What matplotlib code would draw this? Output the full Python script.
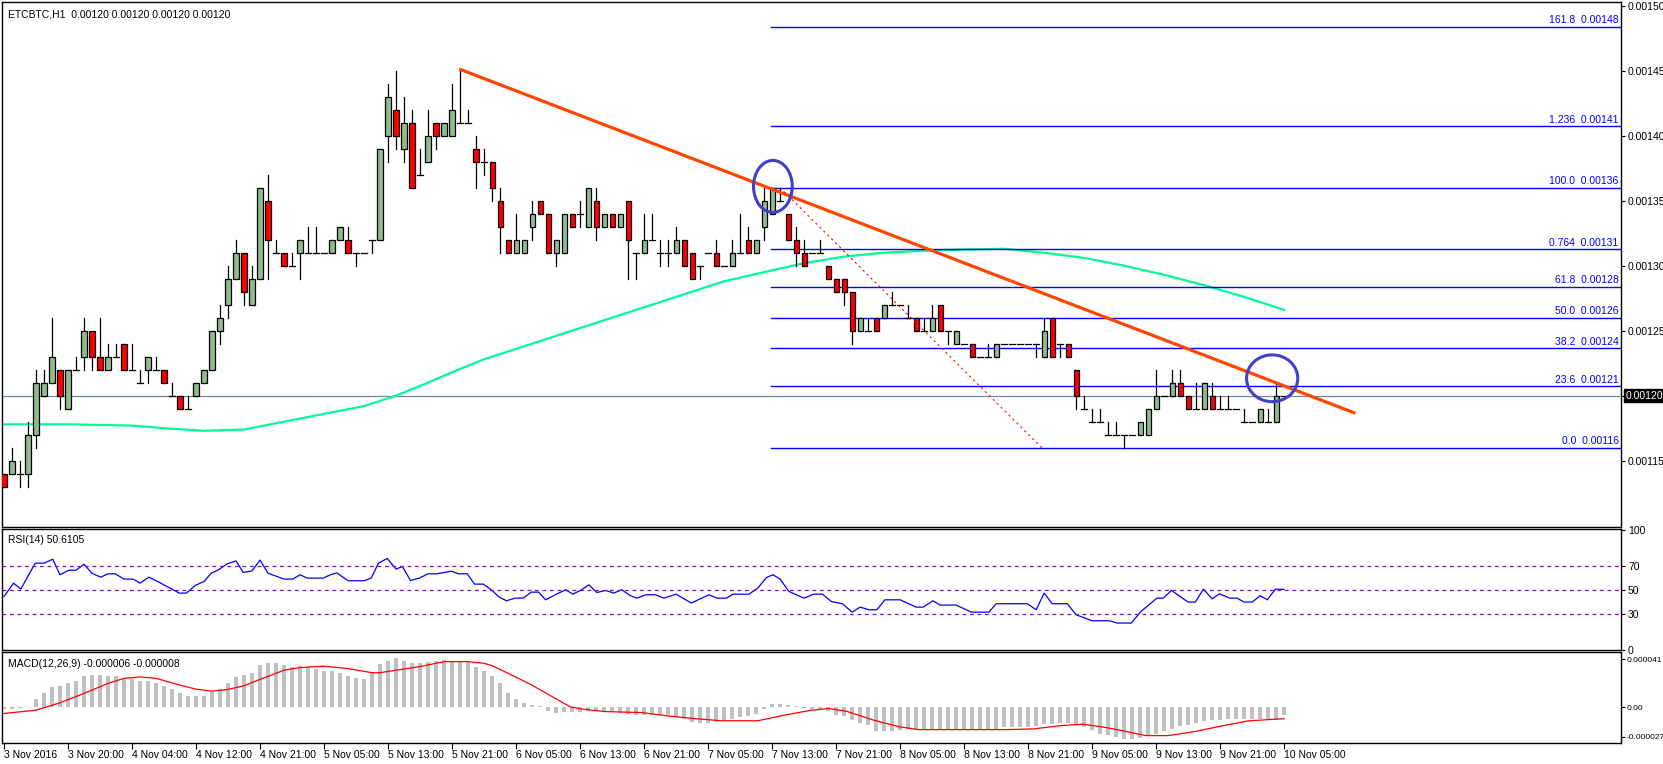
import matplotlib
matplotlib.use("Agg")
import matplotlib.pyplot as plt
from matplotlib.patches import Ellipse, Rectangle
from matplotlib.transforms import blended_transform_factory
import numpy as np

plt.rcParams["font.family"] = "Liberation Sans"

# ---- price data (units of 1e-5 BTC), hourly bars ----
opens = [114,114,114,114,117,120,121,122,119,122,
         123,125,123,122,123,124,122,121,122,122,
         122,120,120,119,120,121,122,125,127,129,
         131,127,129,135,131,131,130,131,131,131,
         131,131,132,132,131,131,132,132,140,142,
         139,141,137,138,141,140,140,141,141,139,
         138,138,135,132,131,131,133,135,134,131,
         131,134,134,133,135,133,134,133,135,131,
         131,132,131,131,131,132,131,130,131,131,
         130,130,131,132,131,133,134,135,134,132,
         131,131,131,130,129,129,128,125,125,126,
         126,127,127,126,126,125,125,127,125,124,
         124,124,123,123,123,124,124,124,124,124,
         123,126,124,124,122,119,118,118,117,117,
         117,117,117,117,119,120,120,121,120,119,
         119,120,119,119,119,118,118,118,118,118,
         120]
highs = [114,116,115,118,122,122,126,122,122,123,
         126,125,126,124,124,124,124,122,123,123,
         122,121,120,120,121,122,125,127,130,132,
         131,130,136,137,132,131,131,132,133,133,
         131,132,133,133,131,131,132,139,144,145,
         143,142,139,142,141,141,144,145,142,140,
         139,138,136,132,134,132,135,135,134,132,
         134,134,135,136,136,134,134,134,135,131,
         134,134,132,132,133,132,131,130,131,132,
         130,132,134,133,132,136,136,136,134,133,
         132,131,132,130,129,129,128,126,126,126,
         127,128,127,127,126,126,127,127,125,125,
         124,124,123,124,124,124,124,124,124,124,
         126,126,124,124,122,120,119,119,118,118,
         117,117,118,119,122,120,122,122,120,121,
         121,121,120,120,119,119,118,119,119,121,
         120]
lows = [113,114,113,113,116,120,121,119,119,122,
        122,122,122,122,123,122,122,121,121,122,
        121,120,119,119,120,121,122,124,126,129,
        127,127,129,129,131,130,130,129,131,131,
        131,131,132,131,130,131,131,132,138,139,
        138,136,137,138,139,140,140,141,141,136,
        137,135,131,131,131,131,132,134,131,130,
        131,133,133,133,132,133,133,133,129,129,
        131,132,130,130,131,130,129,129,131,130,
        130,130,131,131,131,132,134,135,132,130,
        130,131,131,129,128,127,124,125,125,125,
        126,127,127,126,125,125,125,125,124,124,
        124,123,123,123,123,124,124,124,124,123,
        123,123,123,123,119,119,118,118,117,117,
        116,117,117,117,119,120,120,120,119,119,
        119,119,119,119,119,118,118,118,118,118,
        120]
closes = [113,115,114,117,121,121,123,120,122,122,
          125,123,122,123,123,122,122,121,123,122,
          121,120,119,119,121,122,125,126,129,131,
          128,129,136,132,131,130,130,132,131,131,
          131,132,133,131,131,131,132,139,143,140,
          141,136,137,140,140,141,142,141,141,138,
          138,136,133,131,132,132,134,134,131,132,
          134,133,134,136,133,134,133,134,132,131,
          132,132,131,131,132,130,129,130,131,130,
          130,131,131,131,132,135,136,135,132,131,
          130,131,131,129,128,128,125,126,125,125,
          127,127,127,126,125,125,126,125,125,125,
          124,123,123,123,124,124,124,124,124,124,
          125,123,124,123,120,119,118,118,117,117,
          117,117,118,119,120,120,121,120,119,119,
          121,119,119,119,119,118,118,119,118,120,
          120]

# moving average : bar, value
ma_bar = [0, 8, 16, 20, 25, 30, 35, 40, 45, 49, 53, 56, 60, 70, 80, 90, 100, 105, 110, 115, 120, 125, 130, 135, 140, 145, 150, 155, 160]
ma_val = [117.8, 117.8, 117.7, 117.5, 117.3, 117.4, 118.0, 118.6, 119.2, 120.0, 121.0, 121.8, 122.8, 124.8,
          126.8, 128.8, 130.2, 130.7, 131.0, 131.15, 131.25, 131.3, 131.0, 130.6, 130.0, 129.3, 128.5, 127.6, 126.6]

fib_levels = [0.0, 23.6, 38.2, 50.0, 61.8, 76.4, 100.0, 123.6, 161.8]
fib_names = ["0.0", "23.6", "38.2", "50.0", "61.8", "0.764", "100.0", "1.236", "161.8"]
fib_low, fib_high = 116.0, 136.0
fib_start_bar = 95.9

trend_bars = [56.9, 168.9]
trend_vals = [145.13, 118.65]
dot_bars = [97.0, 129.7]
dot_vals = [136.0, 116.0]

# RSI(14)
rsi_bar = [0,1.2,2.1,3.9,5,6.1,7,8.1,9,10,11,12.1,13,13.9,15,16.1,17,18.1,19.2,21.9,22.8,23.9,25,25.9,26.8,27.9,29,29.9,31,32,33,
           35,36.1,37,37.9,39.9,40.8,41.6,43,45,45.9,46.8,47.9,49,49.8,50.8,51.9,53,54.1,55.9,56.8,57.9,58.8,59.9,60.9,61.9,62.8,63.9,64.9,65.9,66.8,67.7,69,
           70.2,71.1,72.2,73.1,74.1,75.2,76.2,77.2,78.3,79.1,80.2,81.4,82.5,84,85.9,88.1,89.1,90.3,91.1,93.1,94.2,95.3,96.1,97,98.1,100,101.2,102.3,103.4,104.8,106,107,108.1,109.1,110.1,112,114,114.9,116.1,117,119,120.9,123.1,124,127.9,129,130,131,132.9,134,136,138.2,139.1,140.9,142.1,144.1,144.9,145.9,148,148.9,149.9,151,151.9,
           153.2,154.1,155,156,157,157.9,158.9,160]
rsi_val = [44.7,55.8,50.8,72.5,72.5,75.8,62.8,66.6,66.6,71.6,64,60.8,63.6,63.6,59.2,59.2,55.8,60.8,57.2,47.5,47.5,53.9,57.2,64.1,66.9,71.9,74.4,64.7,66.1,75,64.1,
           59.2,59.2,62.8,60,60,62.8,64.4,57.8,57.8,60,72.5,76.4,67.5,69.7,58,60,63.6,63.6,65.8,63.6,63.6,55,55,50.3,44.1,41.1,43.3,43.3,48.3,48.3,41.9,46.4,
           50.3,46.6,50.3,54.4,48,49.7,47.5,50.3,45.3,43.3,46.1,46.1,43.3,46.6,39.2,46.1,43.3,43.3,46.6,46.6,51.6,60.5,62.8,59.2,48.9,43.3,46.6,46.6,40.5,38.6,31.6,35.8,33.6,33.6,41.9,41.9,35.8,35.8,41.1,37.5,37.5,31.6,31.6,38.6,38.6,33.6,47.5,38.6,38.6,29.4,24.4,24.4,22.5,22.5,32.2,43.3,43.3,49.7,40,40,50.8,42.7,46.9,
           43.3,43.3,40,40,45.3,41.9,50.8,50.6]

# MACD histogram (units 1e-6), one per bar
macd_hist = [-1,-1,-0.5,0.5,7.1,12.5,17.7,18.5,21.1,22.5,
             27,27.6,27.6,27,27,24.5,24.5,22.5,22.5,21.1,
             18.5,15.6,12.5,9.7,9.7,9.7,12.8,15.4,21.1,26.2,
             27.6,29.6,36.2,37.6,37.6,36.2,34.8,35.3,34.8,32.8,
             31.1,31.1,29.6,26.8,24.8,23.9,29.9,37,39.6,42.1,
             39.6,38.1,38.1,38.7,39.6,40.8,39.6,39.6,39,34.8,
             31.4,27.1,20.5,12.5,7.1,4,2,1.5,-2.8,-4.6,
             -3.7,-3.7,-3.7,-3.2,-3.2,-3.5,-4,-4.5,-5.5,-6.6,
             -6.6,-6.6,-6.6,-6.6,-8,-10,-12.4,-13,-13.3,-12,
             -11,-10,-8.1,-7,-5.2,-1,2.8,2.8,2,1.1,
             -0.5,-0.9,-2,-2.9,-6,-7.5,-11,-13,-14.5,-19.6,
             -20.2,-20,-19,-18.5,-18.2,-18,-18,-18.2,-18.5,-19,
             -19,-19,-18.5,-18.3,-18,-17,-17,-16.8,-16.5,-15.5,
             -14.2,-14,-13.3,-13.5,-14.5,-17,-18.8,-22.2,-23.5,-25.1,
             -26.5,-26.5,-25.6,-24,-22.2,-20,-18,-16,-14.5,-13,
             -11.4,-11,-10.5,-10,-9.4,-9.4,-9.4,-9.4,-9.4,-9.4,
             -6.6]
sig_bar = [0,4,7,10,13,15,17,19,22,24,26,28,30,32,35,37,40,43,46,47,49,52,55,58,60,61,63,66,69.5,70.8,72.4,75.2,79.7,83,86.4,89.7,94.2,97.5,100.9,103.1,105.3,108.7,112,114.3,119.8,125.4,128.7,132.1,134.9,137.7,139.9,142.7,145.5,148.8,152.2,155.5,160]
sig_val = [-5.1,-2.3,4,12,20.5,24.8,26,24.8,19,15.6,13.9,15.4,18.5,23.9,31.7,34,35.1,33.1,29.6,29.6,31.7,34.8,39,39,37.6,35.6,29.1,19,5.4,0.5,-1.5,-3.5,-4.3,-7.2,-9.5,-11.3,-11.3,-6.6,-2.3,-0.9,-3.2,-10.8,-16.5,-18.8,-18.8,-18.8,-18.2,-15.4,-14.2,-17,-19.9,-23.9,-23.9,-20.5,-15.7,-11.4,-9.5]

x_labels = ["3 Nov 2016", "3 Nov 20:00", "4 Nov 04:00", "4 Nov 12:00", "4 Nov 21:00", "5 Nov 05:00",
            "5 Nov 13:00", "5 Nov 21:00", "6 Nov 05:00", "6 Nov 13:00", "6 Nov 21:00", "7 Nov 05:00",
            "7 Nov 13:00", "7 Nov 21:00", "8 Nov 05:00", "8 Nov 13:00", "8 Nov 21:00", "9 Nov 05:00",
            "9 Nov 13:00", "9 Nov 21:00", "10 Nov 05:00"]
current_price = 120

# ---- layout ----
W, H = 1663, 764
fig = plt.figure(figsize=(W/100, H/100), dpi=100)
def rect(l, t, r, b):
    return [l/W, 1-b/H, (r-l)/W, (b-t)/H]
ax = fig.add_axes(rect(2, 2, 1621, 527))
axr = fig.add_axes(rect(2, 529, 1621, 650), sharex=ax)
axm = fig.add_axes(rect(2, 652, 1621, 743), sharex=ax)
FS = 7.5
xmin, xmax = -0.25, 202.1
ax.set_xlim(xmin, xmax)

n = len(closes)
green = "#8fbc8f"
for i in range(n):
    o, h, l, c = opens[i], highs[i], lows[i], closes[i]
    ax.plot([i, i], [l, h], color="black", lw=0.9, zorder=3)
    if o == c:
        ax.plot([i-0.35, i+0.35], [o, o], color="black", lw=0.9, zorder=4)
    else:
        col = green if c > o else "#ff0000"
        ax.add_patch(Rectangle((i-0.32, min(o, c)), 0.64, abs(c-o), facecolor=col,
                               edgecolor="black", lw=0.9, zorder=4))

ax.plot(ma_bar, ma_val, color="#00fa9a", lw=1.6, zorder=2)
ax.axhline(current_price, color="#778899", lw=0.9, zorder=1)

rng = fib_high - fib_low
for lev, name in zip(fib_levels, fib_names):
    v = fib_low + rng*lev/100.0
    ax.plot([fib_start_bar, xmax], [v, v], color="#0000ff", lw=1.0, zorder=2)
    ax.text(xmax-0.3, v+0.12, f"{name}  {v/1e5:.5f}", color="#0000ff", fontsize=FS,
            ha="right", va="bottom", zorder=5)

ax.plot(trend_bars, trend_vals, color="#ff4500", lw=2.3, zorder=5, solid_capstyle="butt")
ax.plot(dot_bars, dot_vals, color="#ff0000", lw=0.8, ls=(0, (2, 3)), zorder=5)
ax.add_patch(Ellipse((96.1, 136.1), 4.84, 4.0, fill=False, edgecolor="#4040c8", lw=2.2, zorder=6))
ax.add_patch(Ellipse((158.5, 121.34), 6.4, 3.6, fill=False, edgecolor="#4040c8", lw=2.2, zorder=6))

ax.set_ylim(109.9, 150.285)
yt = np.arange(115, 151, 5)
ax.set_yticks(yt)
ax.set_yticklabels([f"{v/1e5:.5f}" for v in yt])
ax.text(0.004, 0.985, "ETCBTC,H1  0.00120 0.00120 0.00120 0.00120",
        transform=ax.transAxes, fontsize=FS, va="top", ha="left")
ax.annotate(f"{current_price/1e5:.5f}", xy=(1.0, current_price),
            xycoords=blended_transform_factory(ax.transAxes, ax.transData),
            xytext=(3, 0), textcoords="offset points", fontsize=FS, color="white",
            va="center", ha="left", bbox=dict(boxstyle="square,pad=0.15", fc="black", ec="black"),
            zorder=10, annotation_clip=False)

# RSI
axr.plot(rsi_bar, rsi_val, color="#0000ff", lw=0.9)
for lv in (70, 50, 30):
    axr.axhline(lv, color="#9400d3", lw=0.9, ls=(0, (3, 3)))
axr.set_ylim(0, 101)
axr.set_yticks([0, 30, 50, 70, 100])
axr.text(0.004, 0.95, "RSI(14) 50.6105", transform=axr.transAxes, fontsize=FS, va="top", ha="left")

# MACD
axm.bar(np.arange(n), macd_hist, width=0.45, color="#c0c0c0", zorder=1)
axm.plot(sig_bar, sig_val, color="#ff0000", lw=0.9, zorder=2)
axm.set_ylim(-30.2, 47.2)
axm.set_yticks([-25, 0, 41])
axm.set_yticklabels(["-0.000027", "0.00", "0.000041"])
axm.text(0.004, 0.92, "MACD(12,26,9) -0.000006 -0.000008", transform=axm.transAxes, fontsize=FS, va="top", ha="left")

axm.set_xticks(np.arange(0, 8*len(x_labels), 8))
axm.set_xticklabels(x_labels, ha="left")
for a in (ax, axr, axm):
    a.yaxis.tick_right()
    a.tick_params(axis="y", labelsize=FS, length=3, width=0.8, pad=2, direction="out")
    for s in a.spines.values():
        s.set_linewidth(1.0)
        s.set_color("black")
    a.set_facecolor("white")
axm.tick_params(axis="y", labelsize=6.0, pad=1)
for a in (ax, axr):
    a.tick_params(axis="x", bottom=False, labelbottom=False)
axm.tick_params(axis="x", labelsize=FS, length=4, width=0.8, pad=1, direction="out")
for lab in axm.get_xticklabels():
    lab.set_horizontalalignment("left")

fig.savefig("out.png", dpi=100, facecolor="white")
